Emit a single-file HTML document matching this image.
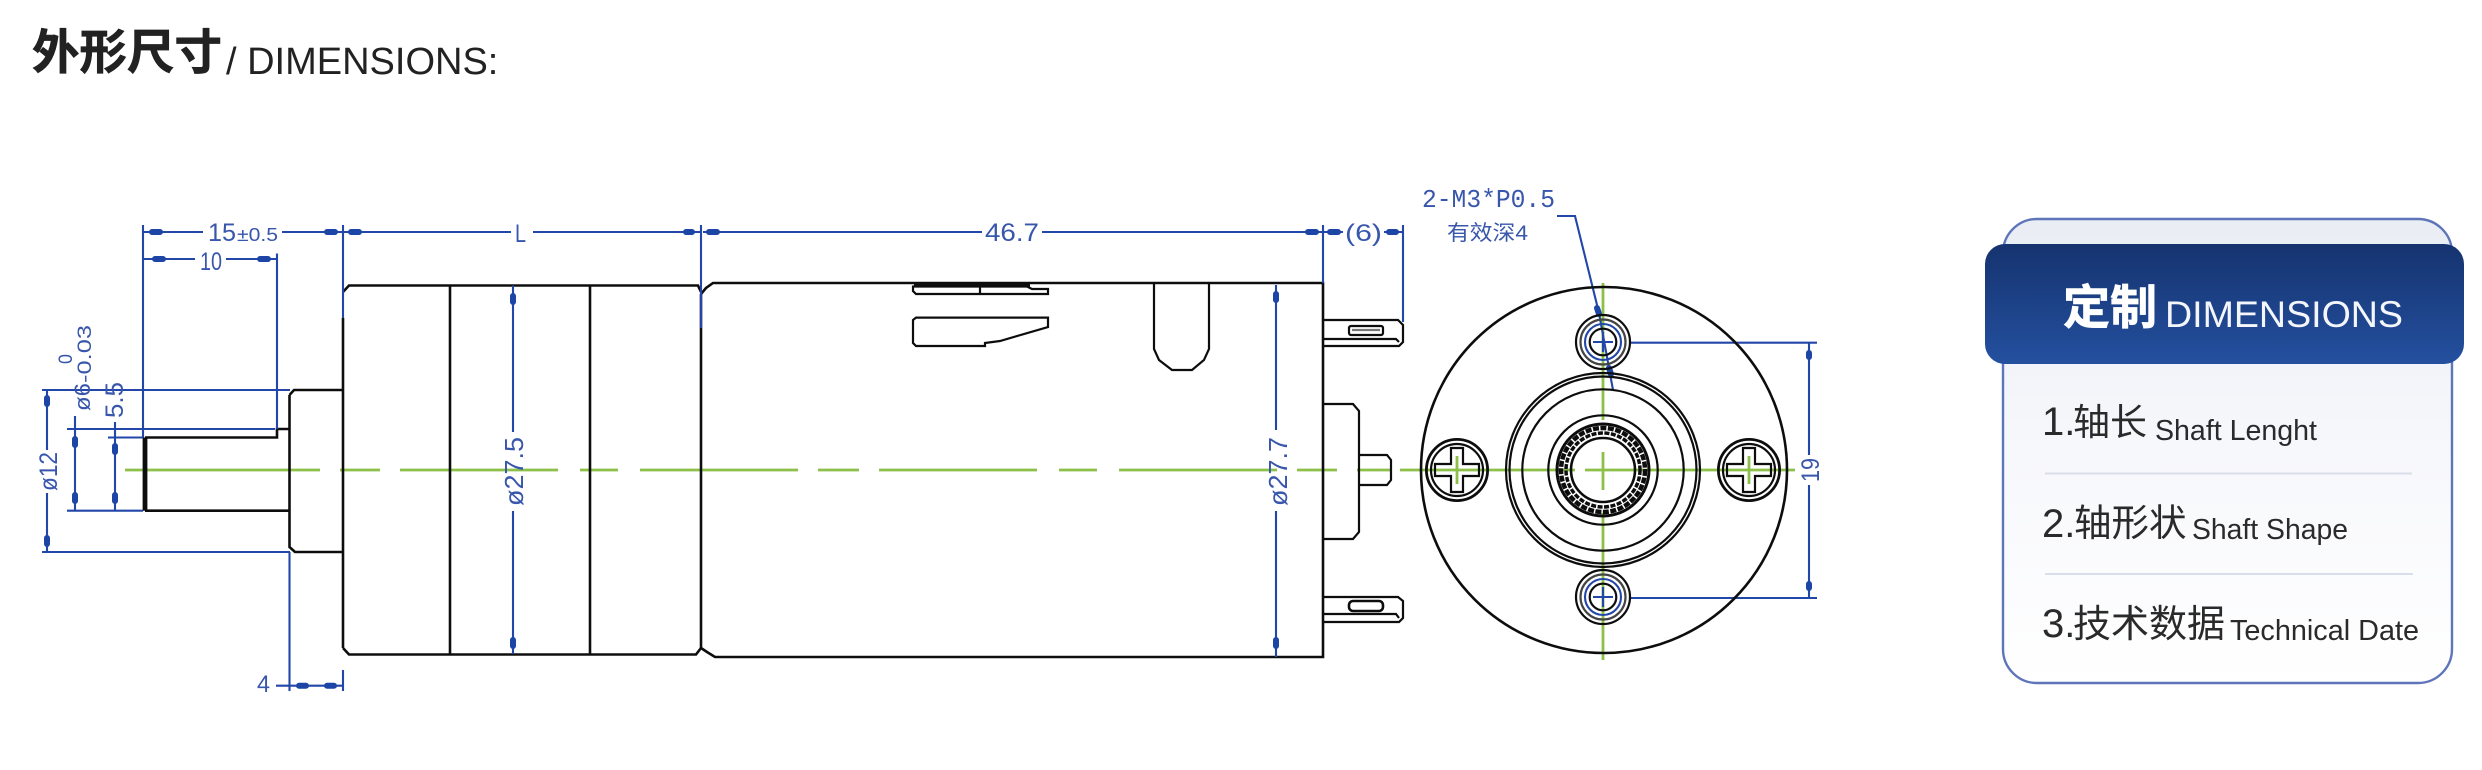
<!DOCTYPE html>
<html>
<head>
<meta charset="utf-8">
<style>
html,body{margin:0;padding:0;background:#fff;width:2482px;height:770px;overflow:hidden}
svg{display:block}
text{font-family:"Liberation Sans","Noto Sans CJK SC",sans-serif}
.k{fill:none;stroke:#111;stroke-width:2.6}
.kt{fill:none;stroke:#111;stroke-width:2.2}
.b{fill:none;stroke:#2447a8;stroke-width:2.1}
.g{fill:none;stroke:#8cc04a;stroke-width:2.8}
.a{stroke:#1a45a6;stroke-width:6;stroke-linecap:round}
.t{fill:#3857ab}
</style>
</head>
<body>
<svg width="2482" height="770" viewBox="0 0 2482 770" xmlns="http://www.w3.org/2000/svg">
<defs>
<linearGradient id="cardg" x1="0" y1="0" x2="0" y2="1"><stop offset="0" stop-color="#e9edf4"/><stop offset=".45" stop-color="#f6f7fb"/><stop offset="1" stop-color="#ffffff"/></linearGradient>
<linearGradient id="headg" x1="0" y1="0" x2="0" y2="1"><stop offset="0" stop-color="#15336f"/><stop offset="1" stop-color="#24509f"/></linearGradient>
<filter id="soft" x="0" y="0" width="100%" height="100%"><feGaussianBlur stdDeviation="0.3"/></filter>
</defs>

<!-- heading -->
<text x="32" y="69" font-size="47.5" font-weight="700" fill="#222" stroke="#222" stroke-width=".7">外形尺寸</text>
<text x="226" y="74" font-size="38" fill="#222">/ DIMENSIONS:</text>

<g filter="url(#soft)">
<!-- centre lines -->
<g class="g">
<path d="M125 470H320M340 470H380M400 470H558M580 470H618M640 470H798M818 470H859M879 470H1037M1059 470H1097M1119 470H1277M1297 470H1337M1357 470H1392"/>
<path d="M1400 470H1575M1585 470H1795"/>
<path d="M1603 283V420M1603 452V490M1603 513V660"/>
<path d="M1457 456V484M1749 456V484"/>
</g>

<!-- shaft + boss + gearbox -->
<g class="k">
<path d="M145 437.5V510.7" stroke-width="4.8"/>
<path d="M145 437.5H277V429H289.5M145 510.7H289.5"/>
<path d="M289.5 395L294 390H343M289.5 395V547L295 552H343"/>
<path d="M343 318V648M343 292L349 285.5H698L701 292M343 648L349 654.5H696L701 648"/>
<path d="M450 285.5V654.5M590 285.5V654.5"/>
<path d="M701 294V648"/>
<path d="M701 294L706 288L713 283H1323V657H715L707 652L701 648"/>
</g>

<!-- motor details -->
<g class="kt">
<path d="M913 285.5V291L916 294H1048V289H1032L1027 286.5H913" />
<path d="M980 287V294"/>
<path d="M914 285.5H1030" stroke-width="3.5"/>
<path d="M916 317.6H1048V327L1000 341L985 343V346H916L913 343V320Z"/>
<path d="M1154 284V349L1159 360L1172 370H1192L1204 360L1209 349V284"/>
<!-- terminals -->
<path d="M1323 320H1398L1403 325V342L1399 346H1323M1323 339H1396L1399 342"/>
<rect x="1349" y="326" width="34" height="9" rx="2"/>
<path d="M1352 330H1380" stroke="#777"/>
<path d="M1323 597H1398L1403 601V618L1399 622H1323M1323 614H1396L1399 618"/>
<rect x="1349" y="601" width="34" height="10" rx="4" stroke-width="2.6"/>
<!-- rear boss & shaft -->
<path d="M1323 404H1353L1359 411V532L1353 539H1323"/>
<path d="M1359 455H1387L1391 460V480L1387 485H1359"/>
</g>

<!-- dimension lines -->
<g class="b">
<path d="M143 225V437.5"/>
<path d="M277 253.5V429"/>
<path d="M343 225V318M343 670V691"/>
<path d="M143 232H203M282 232H343"/>
<path d="M143 259H195M226 259H277"/>
<path d="M42 390H290M42 552H290"/>
<path d="M47 390V450M47 493V552"/>
<path d="M67 429H275M67 510.7H143"/>
<path d="M75 416V510.7"/>
<path d="M108 437.5H143"/>
<path d="M115 422V510.7"/>
<path d="M289.5 552V691"/>
<path d="M276 685.7H343"/>
<path d="M343 232H511M533 232H701"/>
<path d="M701 225V328"/>
<path d="M703 232H982M1042 232H1323"/>
<path d="M1323 225V283M1403 225V322"/>
<path d="M1323 232H1343M1384 232H1403"/>
<path d="M513 285.5V432M513 511V654"/>
<path d="M1276 285V430M1276 511V657"/>
<path d="M1557 216H1575L1599 313L1613 390"/>
<path d="M1630 342.7H1817M1630 598H1817"/>
<path d="M1809 343V455M1809 485V598"/>
<circle cx="1603" cy="342" r="18"/>
<circle cx="1603" cy="597" r="18"/>
<path d="M1593 342H1613M1603 332V352M1593 597H1613M1603 587V607"/>
</g>

<!-- arrowheads -->
<g class="a">
<path d="M152 232H160M327 232H335M351 232H359"/>
<path d="M155 259H163M260 259H268"/>
<path d="M47 398V404M47 538V544"/>
<path d="M75 439V445M75 495V501"/>
<path d="M115 446V452M115 495V501"/>
<path d="M299 685.7H306M327 685.7H334"/>
<path d="M686 232H692M709 232H717"/>
<path d="M1308 232H1316M1330 232H1338M1389 232H1396"/>
<path d="M513 296V302M513 640V646"/>
<path d="M1276 294V300M1276 640V646"/>
<path d="M1597 308L1599 314M1609 368L1611 374"/>
<path d="M1809 353V357M1809 584V588"/>
</g>

<!-- end view -->
<g class="kt">
<circle cx="1604" cy="470" r="183" stroke-width="2.6"/>
<circle cx="1603" cy="470" r="97"/>
<circle cx="1603" cy="470" r="93.5"/>
<circle cx="1603" cy="470" r="80.7"/>
<circle cx="1603" cy="470" r="54.7"/>
<circle cx="1603" cy="470" r="46" stroke-width="3"/>
<circle cx="1603" cy="470" r="42" stroke-width="4.5" stroke-dasharray="6 1.5"/>
<circle cx="1603" cy="470" r="37" stroke-width="3.5" stroke-dasharray="5 1.5"/>
<circle cx="1603" cy="470" r="32" stroke-width="2.6"/>
<circle cx="1603" cy="342" r="27"/>
<circle cx="1603" cy="342" r="22.5" stroke="#444"/>
<circle cx="1603" cy="342" r="13.3"/>
<circle cx="1603" cy="597" r="27"/>
<circle cx="1603" cy="597" r="22.5" stroke="#444"/>
<circle cx="1603" cy="597" r="13.3"/>
<circle cx="1457" cy="470" r="30.6" stroke-width="2.8"/>
<circle cx="1457" cy="470" r="26"/>
<path d="M1451 448h12v16h16v12h-16v16h-12v-16h-16v-12h16z"/>
<circle cx="1749" cy="470" r="30.6" stroke-width="2.8"/>
<circle cx="1749" cy="470" r="26"/>
<path d="M1743 448h12v16h16v12h-16v16h-12v-16h-16v-12h16z"/>
</g>

<!-- dimension text -->
<g class="t">
<text x="208" y="241" font-size="25" textLength="28" lengthAdjust="spacingAndGlyphs">15</text>
<text x="237" y="241" font-size="18" textLength="41" lengthAdjust="spacingAndGlyphs">±0.5</text>
<text x="200" y="270" font-size="25" textLength="22" lengthAdjust="spacingAndGlyphs">10</text>
<text x="515" y="242" font-size="25" textLength="11" lengthAdjust="spacingAndGlyphs">L</text>
<text x="985" y="241" font-size="25" textLength="54" lengthAdjust="spacingAndGlyphs">46.7</text>
<text x="1345" y="241" font-size="24" textLength="37" lengthAdjust="spacingAndGlyphs">(6)</text>
<text x="257" y="692" font-size="24" textLength="13" lengthAdjust="spacingAndGlyphs">4</text>
<text x="1422" y="207" font-size="26" textLength="133" lengthAdjust="spacingAndGlyphs" style="font-family:'Liberation Mono',monospace">2-M3*P0.5</text>
<text x="1447" y="240" font-size="21" textLength="81" lengthAdjust="spacingAndGlyphs">有效深4</text>
<text transform="translate(57 491) rotate(-90)" font-size="25" textLength="39" lengthAdjust="spacingAndGlyphs">ø12</text>
<text transform="translate(90 411) rotate(-90)" font-size="22" textLength="28" lengthAdjust="spacingAndGlyphs">ø6</text>
<text transform="translate(91 383) rotate(-90)" font-size="19" textLength="58" lengthAdjust="spacingAndGlyphs">-0.03</text>
<text transform="translate(72 364) rotate(-90)" font-size="19" textLength="10" lengthAdjust="spacingAndGlyphs">0</text>
<text transform="translate(123 418) rotate(-90)" font-size="25" textLength="36" lengthAdjust="spacingAndGlyphs">5.5</text>
<text transform="translate(523 506) rotate(-90)" font-size="26" textLength="69" lengthAdjust="spacingAndGlyphs">ø27.5</text>
<text transform="translate(1287 506) rotate(-90)" font-size="26" textLength="69" lengthAdjust="spacingAndGlyphs">ø27.7</text>
<text transform="translate(1819 482) rotate(-90)" font-size="25" textLength="24" lengthAdjust="spacingAndGlyphs">19</text>
</g>
</g>

<!-- card -->
<rect x="2003" y="219" width="449" height="464" rx="34" fill="url(#cardg)" stroke="#5f75ba" stroke-width="2.4"/>
<rect x="1985" y="244" width="479" height="120" rx="20" fill="url(#headg)"/>
<text x="2063" y="324" font-size="47" font-weight="700" fill="#fff" stroke="#fff" stroke-width=".7">定制</text>
<text x="2165" y="327" font-size="37" fill="#f4f6fb" textLength="238" lengthAdjust="spacingAndGlyphs">DIMENSIONS</text>

<g fill="#2a2a2a">
<text x="2042" y="435" font-size="40">1.</text>
<text x="2073" y="435" font-size="37">轴长</text>
<text x="2155" y="440" font-size="28.5" textLength="162" lengthAdjust="spacingAndGlyphs">Shaft Lenght</text>
<text x="2042" y="537" font-size="40">2.</text>
<text x="2074" y="536" font-size="37.5">轴形状</text>
<text x="2192" y="539" font-size="28.5" textLength="156" lengthAdjust="spacingAndGlyphs">Shaft Shape</text>
<text x="2042" y="637" font-size="40">3.</text>
<text x="2073" y="637" font-size="38">技术数据</text>
<text x="2230" y="640" font-size="28.5" textLength="189" lengthAdjust="spacingAndGlyphs">Technical Date</text>
</g>
<path d="M2045 473.5H2412M2045 574H2413" stroke="#dadeeb" stroke-width="2" fill="none"/>
</svg>
</body>
</html>
